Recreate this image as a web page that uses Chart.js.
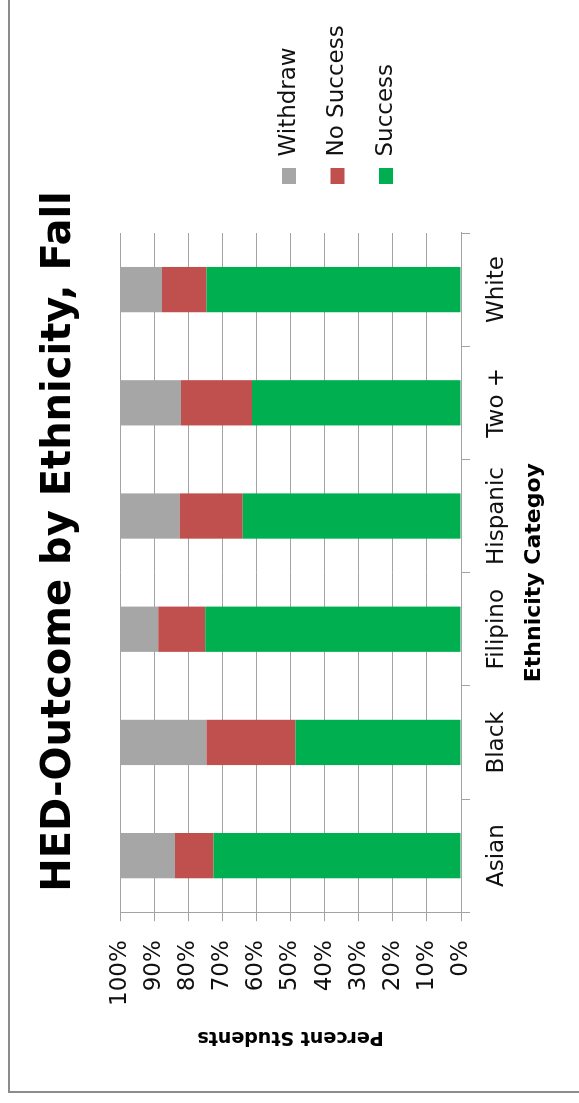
<!DOCTYPE html>
<html>
<head>
<meta charset="utf-8">
<title>HED-Outcome by Ethnicity, Fall</title>
<script src="https://cdn.jsdelivr.net/npm/chart.js@4"></script>
<style>
  html, body { margin: 0; padding: 0; background: #fff; overflow: hidden; }
  body { width: 579px; height: 1103px; position: relative; }
  /* the chart is laid out landscape and turned a quarter turn to the left */
  #turn {
    position: absolute; left: 0; top: 1103px;
    width: 1092px; height: 675px;
    transform-origin: 0 0; transform: rotate(-90deg);
  }
  #frame {
    position: absolute; left: 10px; top: 8px;
    width: 1300px; height: 900px;
    border: 2px solid #8c8c8c; box-sizing: border-box;
  }
  #chart { position: absolute; left: 0; top: 0; }
</style>
</head>
<body>
<div id="turn">
  <div id="frame"></div>
  <canvas id="chart" width="1092" height="675"></canvas>
</div>
<script>
const categories = ["Asian", "Black", "Filipino", "Hispanic", "Two +", "White"];
const success = [72.6, 48.5, 75.0, 64.0, 61.3, 74.6];
const noSuccess = [11.3, 26.1, 13.8, 18.5, 20.8, 13.1];
const withdraw = [16.1, 25.4, 11.2, 17.5, 17.9, 12.3];
const percentTicks = ["0%", "10%", "20%", "30%", "40%", "50%", "60%", "70%", "80%", "90%", "100%"];

const lineGray = "#a3a3a3";

Chart.defaults.font.family = "'DejaVu Sans', sans-serif";
Chart.defaults.color = "#111";

const ctx = document.getElementById("chart").getContext("2d");

new Chart(ctx, {
  type: "bar",
  data: {
    labels: categories,
    datasets: [
      { label: "Success", data: success, backgroundColor: "#00b050" },
      { label: "No Success", data: noSuccess, backgroundColor: "#c0504d" },
      { label: "Withdraw", data: withdraw, backgroundColor: "#a6a6a6" },
    ],
  },
  options: {
    responsive: false,
    animation: false,
    layout: { padding: { left: 43.5, right: 12.5, top: 0, bottom: 0 } },
    datasets: { bar: { barPercentage: 0.4, categoryPercentage: 1 } },
    plugins: {
      title: {
        display: true,
        text: "HED-Outcome by Ethnicity, Fall",
        color: "#000",
        font: { size: 40, weight: "bold", lineHeight: 1.2 },
        padding: { top: 35.5, bottom: 36.5 },
      },
      legend: {
        position: "right",
        align: "center",
        reverse: true,
        maxWidth: 186,
        labels: {
          boxWidth: 16,
          boxHeight: 14,
          padding: 25.5,
          color: "#111",
          font: { size: 23 },
        },
      },
      tooltip: { enabled: false },
    },
    scales: {
      x: {
        stacked: true,
        grid: { offset: true, drawOnChartArea: false, tickLength: 9, color: lineGray },
        border: { color: lineGray },
        ticks: { padding: 13.2, maxRotation: 0, autoSkip: false, font: { size: 23 } },
        title: {
          display: true,
          text: "Ethnicity Categoy",
          color: "#000",
          font: { size: 22, weight: "bold", lineHeight: 1.2 },
          padding: { top: -3, bottom: 127.6 },
        },
      },
      y: {
        stacked: true,
        min: 0,
        max: 100,
        grid: { color: lineGray, tickLength: 9 },
        border: { color: lineGray },
        ticks: {
          stepSize: 10,
          padding: 19,
          font: { size: 23 },
          callback: (value, index) => percentTicks[index],
        },
        title: {
          display: true,
          text: "Percent Students",
          color: "#000",
          font: { size: 19, weight: "bold", lineHeight: 1.2 },
          padding: { top: 11.6, bottom: 0.1 },
        },
      },
      // empty spacer between the plot and the legend
      gap: {
        type: "linear",
        position: "right",
        display: true,
        grid: { display: false },
        ticks: { display: false },
        border: { display: false },
        afterFit: (scale) => {
          scale.width = 23.5;
        },
      },
    },
  },
});
</script>
</body>
</html>
